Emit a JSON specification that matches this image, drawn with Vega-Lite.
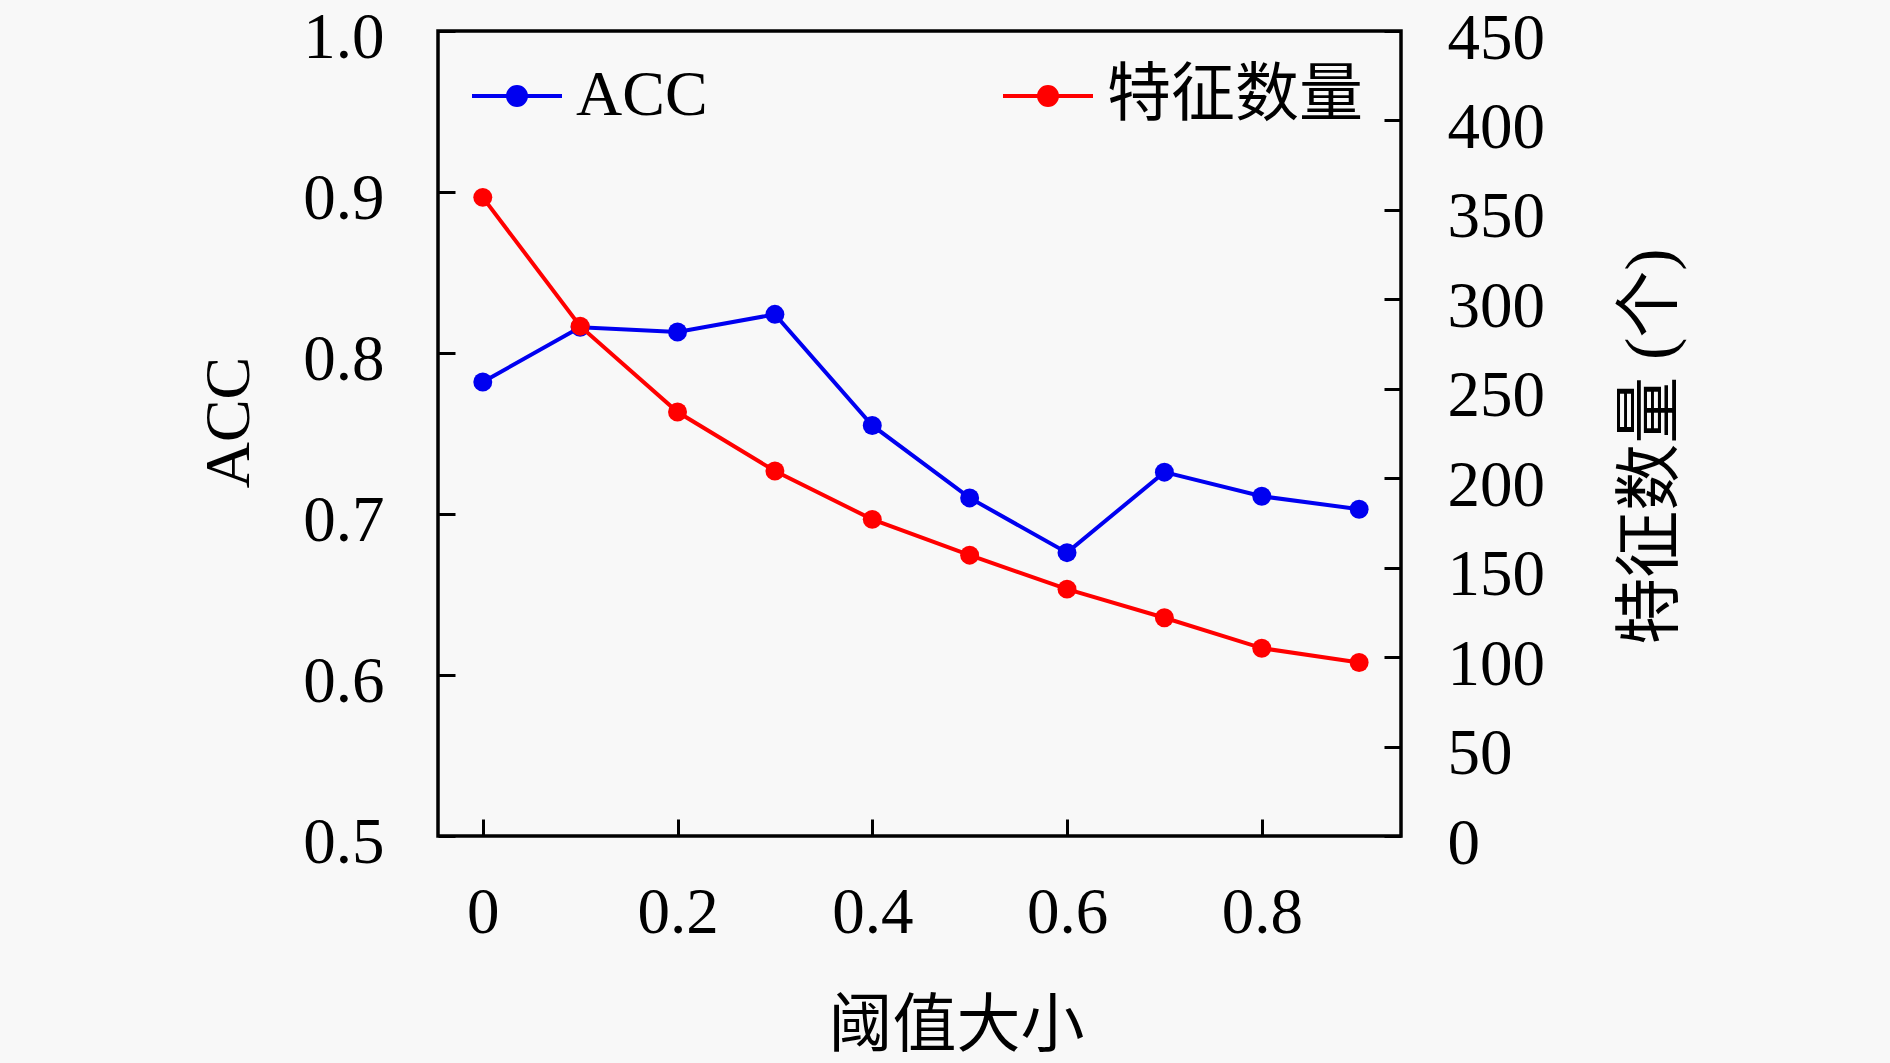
{
  "$schema": "https://vega.github.io/schema/vega-lite/v6.json",
  "width": 963,
  "height": 805,
  "autosize": {"type": "none"},
  "padding": {"left": 438, "top": 31, "right": 489, "bottom": 227},
  "background": "#f8f8f8",
  "config": {
    "view": {"stroke": "black", "strokeWidth": 3.5},
    "font": "Liberation Serif",
    "axis": {
      "grid": false,
      "domain": false,
      "tickColor": "black",
      "tickWidth": 3,
      "tickSize": -17,
      "labelFont": "Liberation Serif",
      "labelFontSize": 65,
      "labelColor": "black",
      "titleFont": "Liberation Serif, Noto Sans CJK SC",
      "titleFontSize": 64,
      "titleFontWeight": "normal",
      "titleColor": "black"
    },
    "legend": {
      "labelFont": "Liberation Serif, Noto Sans CJK SC",
      "labelFontSize": 64,
      "labelColor": "black",
      "labelLimit": 0
    }
  },
  "datasets": {
    "acc": [
      {"threshold": 0.0, "value": 0.782, "series": "ACC"},
      {"threshold": 0.1, "value": 0.816, "series": "ACC"},
      {"threshold": 0.2, "value": 0.813, "series": "ACC"},
      {"threshold": 0.3, "value": 0.824, "series": "ACC"},
      {"threshold": 0.4, "value": 0.755, "series": "ACC"},
      {"threshold": 0.5, "value": 0.710, "series": "ACC"},
      {"threshold": 0.6, "value": 0.676, "series": "ACC"},
      {"threshold": 0.7, "value": 0.726, "series": "ACC"},
      {"threshold": 0.8, "value": 0.711, "series": "ACC"},
      {"threshold": 0.9, "value": 0.703, "series": "ACC"}
    ],
    "features": [
      {"threshold": 0.0, "value": 357, "series": "特征数量"},
      {"threshold": 0.1, "value": 285, "series": "特征数量"},
      {"threshold": 0.2, "value": 237, "series": "特征数量"},
      {"threshold": 0.3, "value": 204, "series": "特征数量"},
      {"threshold": 0.4, "value": 177, "series": "特征数量"},
      {"threshold": 0.5, "value": 157, "series": "特征数量"},
      {"threshold": 0.6, "value": 138, "series": "特征数量"},
      {"threshold": 0.7, "value": 122, "series": "特征数量"},
      {"threshold": 0.8, "value": 105, "series": "特征数量"},
      {"threshold": 0.9, "value": 97, "series": "特征数量"}
    ]
  },
  "encoding": {
    "x": {
      "field": "threshold",
      "type": "quantitative",
      "scale": {"domain": [-0.046, 0.943], "nice": false, "zero": false},
      "axis": {
        "values": [0, 0.2, 0.4, 0.6, 0.8],
        "format": "~g",
        "labelPadding": 62,
        "title": "阈值大小",
        "titleX": 518,
        "titleY": 190,
        "titleBaseline": "middle",
        "titleAlign": "center"
      }
    },
    "color": {
      "field": "series",
      "type": "nominal",
      "scale": {"domain": ["ACC", "特征数量"], "range": ["#0000f0", "#ff0000"]},
      "legend": {
        "title": null,
        "orient": "none",
        "direction": "horizontal",
        "legendX": 32,
        "legendY": 18,
        "padding": 0,
        "columnPadding": 287,
        "labelOffset": 12,
        "symbolType": "M-1,0H1M0.2,0A0.2,0.2,0,1,1,-0.2,0A0.2,0.2,0,1,1,0.2,0Z",
        "symbolSize": 8100,
        "symbolStrokeWidth": 4,
        "encode": {
          "symbols": {"update": {"fill": {"scale": "color", "field": "value"}, "fillOpacity": {"value": 1}}}
        }
      }
    }
  },
  "layer": [
    {
      "data": {"name": "acc"},
      "mark": {"type": "line", "strokeWidth": 4, "point": {"filled": true, "size": 360, "opacity": 1}},
      "encoding": {
        "y": {
          "field": "value",
          "type": "quantitative",
          "scale": {"domain": [0.5, 1.0], "nice": false, "zero": false},
          "axis": {
            "orient": "left",
            "values": [0.5, 0.6, 0.7, 0.8, 0.9, 1.0],
            "format": ".1f",
            "labelPadding": 71,
            "labelOffset": 6,
            "title": "ACC",
            "titleAngle": 270,
            "titleX": -209,
            "titleY": 391,
            "titleBaseline": "middle",
            "titleAlign": "center"
          }
        }
      }
    },
    {
      "data": {"name": "features"},
      "mark": {"type": "line", "strokeWidth": 4, "point": {"filled": true, "size": 360, "opacity": 1}},
      "encoding": {
        "y": {
          "field": "value",
          "type": "quantitative",
          "scale": {"domain": [0, 450], "nice": false},
          "axis": {
            "orient": "right",
            "values": [0, 50, 100, 150, 200, 250, 300, 350, 400, 450],
            "format": "d",
            "labelPadding": 63,
            "labelOffset": 7,
            "title": "特征数量 (个)",
            "titleAngle": 270,
            "titleX": 250,
            "titleY": 415,
            "titleFontSize": 67,
            "titleBaseline": "middle",
            "titleAlign": "center"
          }
        }
      }
    }
  ],
  "resolve": {"scale": {"y": "independent"}}
}
